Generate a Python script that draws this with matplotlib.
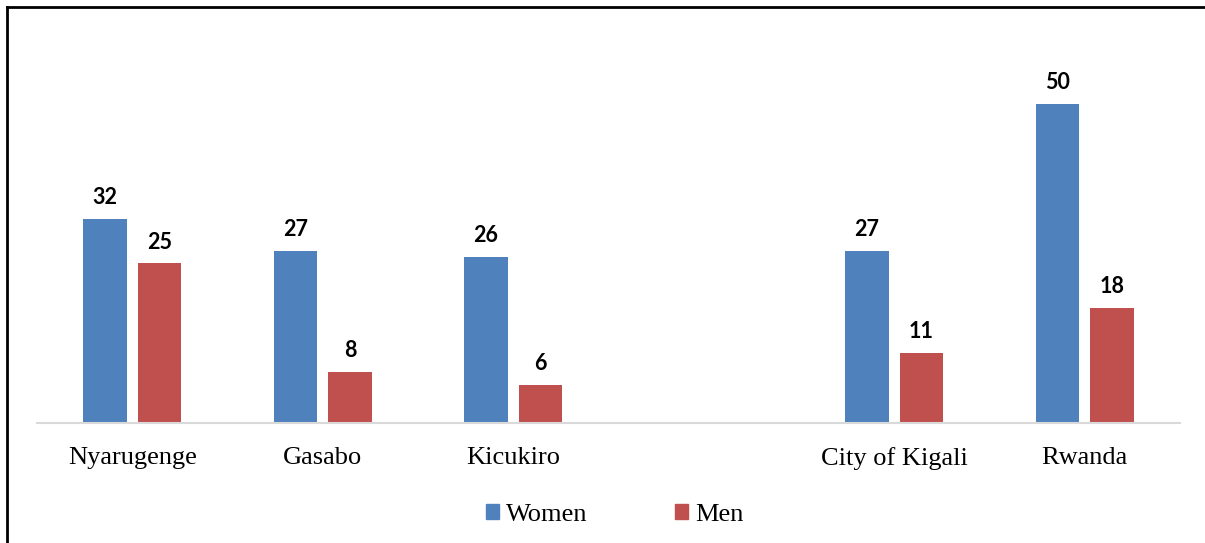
import numpy as np
import matplotlib.pyplot as plt
from matplotlib.lines import Line2D
from matplotlib.patches import Patch

# 지역별 응답 비율 (%)
districts = ["Nyarugenge", "Gasabo", "Kicukiro", "", "City of Kigali", "Rwanda"]
women = [32, 27, 26, None, 27, 50]
men = [25, 8, 6, None, 11, 18]

blue = "#4F81BD"
red = "#C0504D"

fig = plt.figure(figsize=(12.05, 5.43), dpi=100)
ax = fig.add_axes([37 / 1205, 120 / 543, 1143 / 1205, 351 / 543])

x = np.arange(len(districts))
w = 0.226
off = 0.143
for i in range(len(districts)):
    if women[i] is None:
        continue
    ax.bar(x[i] - off, women[i], w, color=blue)
    ax.bar(x[i] + off, men[i], w, color=red)
    ax.text(x[i] - off, women[i] + 1.7, str(women[i]), ha="center", va="bottom",
            fontsize=15.5, fontweight="bold", family="Lato")
    ax.text(x[i] + off, men[i] + 1.7, str(men[i]), ha="center", va="bottom",
            fontsize=15.5, fontweight="bold", family="Lato")

ax.set_xlim(-0.5, 5.5)
ax.set_ylim(0, 55)
ax.set_xticks(x)
ax.set_xticklabels(districts, family="Liberation Serif", fontsize=19)
ax.tick_params(axis="x", length=0, pad=17)
ax.set_yticks([])
for s in ["top", "right", "left"]:
    ax.spines[s].set_visible(False)
ax.spines["bottom"].set_color("#D9D9D9")
ax.spines["bottom"].set_linewidth(1.5)

handles = [Patch(color=blue), Patch(color=red)]
fig.legend(handles, ["Women", "Men"], loc="center", bbox_to_anchor=(0.51, 0.052),
           ncol=2, frameon=False, columnspacing=3.3, handletextpad=0.27,
           handlelength=0.5, handleheight=0.5,
           prop={"family": "Liberation Serif", "size": 19})

# 테두리 (위, 왼쪽)
fig.add_artist(Line2D([7 / 1205, 7 / 1205], [0, 1 - 7 / 543], color="black", lw=2))
fig.add_artist(Line2D([7 / 1205, 1], [1 - 7 / 543, 1 - 7 / 543], color="black", lw=2))

fig.savefig("out.png", dpi=100)
